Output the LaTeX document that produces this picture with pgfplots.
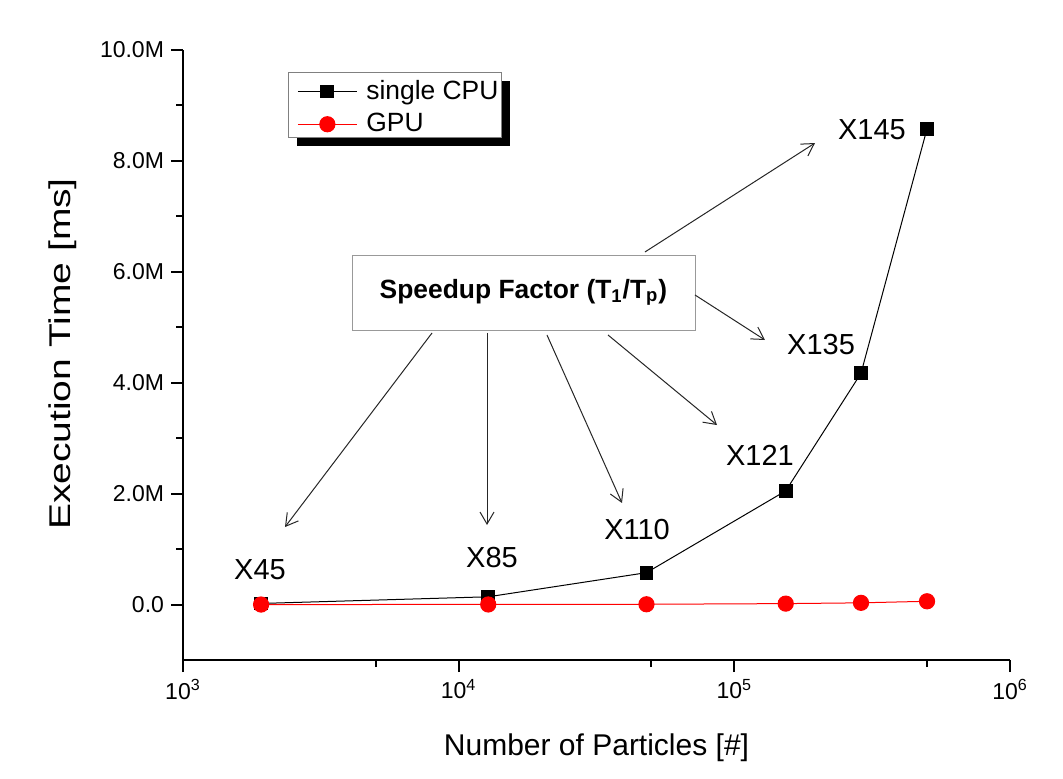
\documentclass[border=0pt]{standalone}
\usepackage{fontspec}
\setmainfont{Liberation Sans}
\usepackage{graphicx}
\usepackage{pgfplots}
\pgfplotsset{compat=1.18}
\usetikzlibrary{arrows.meta}

\begin{document}
\begin{tikzpicture}
\useasboundingbox (-91.5pt,-59pt) rectangle (440pt,330pt);
\begin{axis}[
  at={(0pt,0pt)}, anchor=south west,
  scale only axis, width=413.5pt, height=305pt,
  xmode=log, xmin=1000, xmax=1000000,
  ymin=-1000000, ymax=10000000,
  axis x line*=bottom, axis y line*=left,
  axis line style={line width=1.2pt},
  every tick/.style={line width=1pt, black},
  tick align=outside,
  major tick length=6pt, minor tick length=3.5pt,
  xtick={1000,10000,100000,1000000},
  xticklabels={10\textsuperscript{3},10\textsuperscript{4},10\textsuperscript{5},10\textsuperscript{6}},
  minor xtick={5000,50000,500000},
  ytick={0,2000000,4000000,6000000,8000000,10000000},
  yticklabels={0.0,2.0M,4.0M,6.0M,8.0M,10.0M},
  minor ytick={1000000,3000000,5000000,7000000,9000000},
  scaled y ticks=false,
  ticklabel style={font=\fontsize{11.5}{13}\selectfont},
  xlabel={Number of Particles [\#]},
  ylabel={\scalebox{1.3}[1]{Execution Time [ms]}},
  label style={font=\fontsize{15}{18}\selectfont},
  xlabel style={at={(axis description cs:0.5,-0.144)}, anchor=center},
  ylabel style={at={(axis description cs:-0.145,0.5016)}, anchor=center},
  clip=false,
  legend cell align=left,
  legend style={at={(axis description cs:0.1378,0.9574)}, anchor=north west,
    draw=none, fill=none,
    font=\fontsize{13.2}{15}\selectfont,
    inner xsep=0pt, inner ysep=0pt, column sep=2.5pt, row sep=1.5pt},
  legend image code/.code={\draw[mark repeat=2,mark phase=2,#1] plot coordinates {(0pt,0pt)(14.75pt,0pt)(29.5pt,0pt)};},
]
% legend frame with shadow (drawn before the legend)
\fill[black] (axis description cs:0.1378,0.8426) rectangle (axis description cs:0.3954,0.9493);
\draw[gray, thin, fill=white] (axis description cs:0.127,0.8574) rectangle (axis description cs:0.3845,0.964);

\addplot[black, line width=0.5pt, mark=square*, mark size=3.2pt, mark options={solid, fill=black}]
  coordinates {(1920,20000) (12800,140000) (48000,575000) (153600,2050000) (288000,4170000) (500000,8580000)};
\addlegendentry{single CPU}
\addplot[red, line width=0.5pt, mark=*, mark size=3.8pt, mark options={solid, fill=red, draw=red}]
  coordinates {(1920,500) (12800,1600) (48000,5200) (153600,17000) (288000,31000) (500000,59000)};
\addlegendentry{GPU}

\node[draw=gray!80, fill=white, minimum width=171.5pt, minimum height=37.5pt,
      font=\bfseries\fontsize{13.2}{16}\selectfont]
  at (axis description cs:0.4117,0.6025) {Speedup Factor (T\textsubscript{1}/T\textsubscript{p})};

\begin{scope}[black!85, line width=0.5pt, -{Straight Barb[length=6pt,width=7pt]}]
\draw (axis description cs:0.3011,0.5361) -- (axis description cs:0.1233,0.2180);
\draw (axis description cs:0.3676,0.5361) -- (axis description cs:0.3676,0.2213);
\draw (axis description cs:0.4401,0.5328) -- (axis description cs:0.5308,0.2574);
\draw (axis description cs:0.5139,0.5328) -- (axis description cs:0.6457,0.3852);
\draw (axis description cs:0.6191,0.5984) -- (axis description cs:0.7037,0.5246);
\draw (axis description cs:0.5586,0.6689) -- (axis description cs:0.7642,0.8475);
\end{scope}

\begin{scope}[font=\fontsize{14.5}{17}\selectfont]
\node at (axis description cs:0.0931,0.1475) {X45};
\node at (axis description cs:0.3736,0.1672) {X85};
\node at (axis description cs:0.5490,0.2131) {X110};
\node at (axis description cs:0.6977,0.3361) {X121};
\node at (axis description cs:0.7715,0.5164) {X135};
\node at (axis description cs:0.8331,0.8689) {X145};
\end{scope}
\end{axis}
\end{tikzpicture}
\end{document}
